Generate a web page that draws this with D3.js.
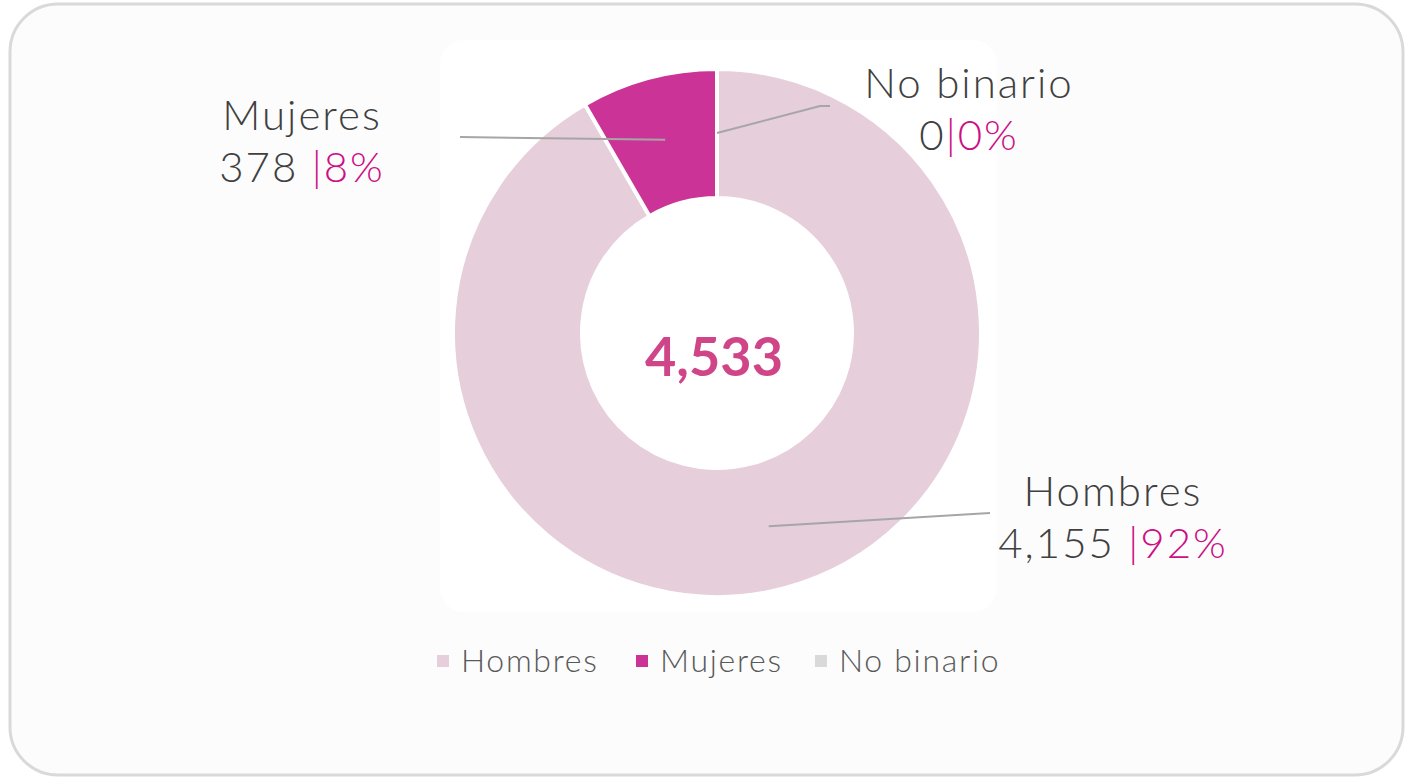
<!DOCTYPE html>
<html>
<head>
<meta charset="utf-8">
<script src="https://cdn.jsdelivr.net/npm/d3@7"></script>
<style>
	body { margin: 0; background: #ffffff; }
	text { font-family: 'Lato', 'Open Sans', sans-serif; }
</style>
</head>
<body>
<script>
const categories = ['Hombres', 'Mujeres', 'No binario'];
const values = [4155, 378, 0];
const percents = ['92%', '8%', '0%'];
const total_label = '4,533';
const colors = ['#e6cedb', '#cb3396', '#d9d9d9'];

function init()
{
	const width = 1409;
	const height = 782;
	const cx = 717;
	const cy = 333;
	const outer_r = 264;
	const inner_r = 135;

	var svg = d3.select('body').append('svg')
		.attr('width', width)
		.attr('height', height);

	// panel
	svg.append('rect')
		.attr('x', 10).attr('y', 4)
		.attr('width', 1393).attr('height', 771)
		.attr('rx', 48).attr('ry', 48)
		.attr('fill', '#fcfcfc')
		.attr('stroke', '#d9d9d9')
		.attr('stroke-width', 3);

	svg.append('rect')
		.attr('x', 440).attr('y', 40)
		.attr('width', 557).attr('height', 572)
		.attr('rx', 24)
		.attr('fill', '#ffffff');

	var data = categories.map(function(c, i) { return {name: c, value: values[i], pct: percents[i], color: colors[i]}; });

	var pie = d3.pie()
		.sort(null)
		.value(function(d) { return d.value; });

	var arc = d3.arc()
		.innerRadius(inner_r)
		.outerRadius(outer_r);

	var mid_arc = d3.arc()
		.innerRadius(200)
		.outerRadius(200);

	var g = svg.append('g')
		.attr('transform', 'translate(' + cx + ',' + cy + ')');

	var arcs = pie(data);

	g.selectAll('path.slice')
		.data(arcs)
		.enter()
		.append('path')
			.attr('class', 'slice')
			.attr('d', arc)
			.attr('fill', function(d) { return d.data.color; })
			.attr('stroke', '#ffffff')
			.attr('stroke-width', 4)
			.attr('stroke-linejoin', 'miter');

	// label anchors relative to the centre (dx, dy for the name baseline; line end)
	const label_pos = [
		{dx: 396, dy: 173, lx: 273, ly: 180},
		{dx: -415, dy: -203, lx: -257, ly: -196},
		{dx: 252, dy: -235, lx: 103, ly: -227, lx2: 113}
	];

	arcs.forEach(function(d, i)
	{
		var p = mid_arc.centroid(d);
		var lp = label_pos[i];
		var pts = [p, [lp.lx, lp.ly]];
		if (lp.lx2 !== undefined) pts.push([lp.lx2, lp.ly]);
		g.append('path')
			.attr('d', d3.line()(pts))
			.attr('fill', 'none')
			.attr('stroke', '#a6a6a6')
			.attr('stroke-width', 2);

		var t = g.append('text')
			.attr('x', lp.dx)
			.attr('y', lp.dy)
			.attr('text-anchor', 'middle')
			.attr('font-size', 42)
			.attr('font-weight', 300)
			.attr('letter-spacing', 2)
			.attr('fill', '#404040')
			.text(d.data.name);

		var t2 = g.append('text')
			.attr('x', lp.dx)
			.attr('y', lp.dy + 52)
			.attr('text-anchor', 'middle')
			.attr('font-size', 42)
			.attr('font-weight', 300)
			.attr('letter-spacing', 2);
		t2.append('tspan')
			.attr('fill', '#404040')
			.text(d3.format(',')(d.data.value) + (d.data.value > 0 ? ' ' : ''));
		t2.append('tspan')
			.attr('fill', '#cc0f84')
			.text('|' + d.data.pct);
	});

	g.append('text')
		.attr('x', -3)
		.attr('y', 43)
		.attr('text-anchor', 'middle')
		.attr('font-family', "'Liberation Sans', Arial, sans-serif")
		.attr('font-size', 54)
		.attr('font-weight', 700)
		.attr('fill', '#d04488')
		.text(total_label);

	// legend
	var legend_x = [437, 636, 815];
	var legend = svg.append('g');
	data.forEach(function(d, i)
	{
		legend.append('rect')
			.attr('x', legend_x[i])
			.attr('y', 655)
			.attr('width', 12)
			.attr('height', 12)
			.attr('fill', d.color);
		legend.append('text')
			.attr('x', legend_x[i] + 24)
			.attr('y', 672)
			.attr('font-size', 32)
			.attr('font-weight', 300)
			.attr('letter-spacing', 1.7)
			.attr('fill', '#595959')
			.text(d.name);
	});
}
init();
</script>
</body>
</html>
